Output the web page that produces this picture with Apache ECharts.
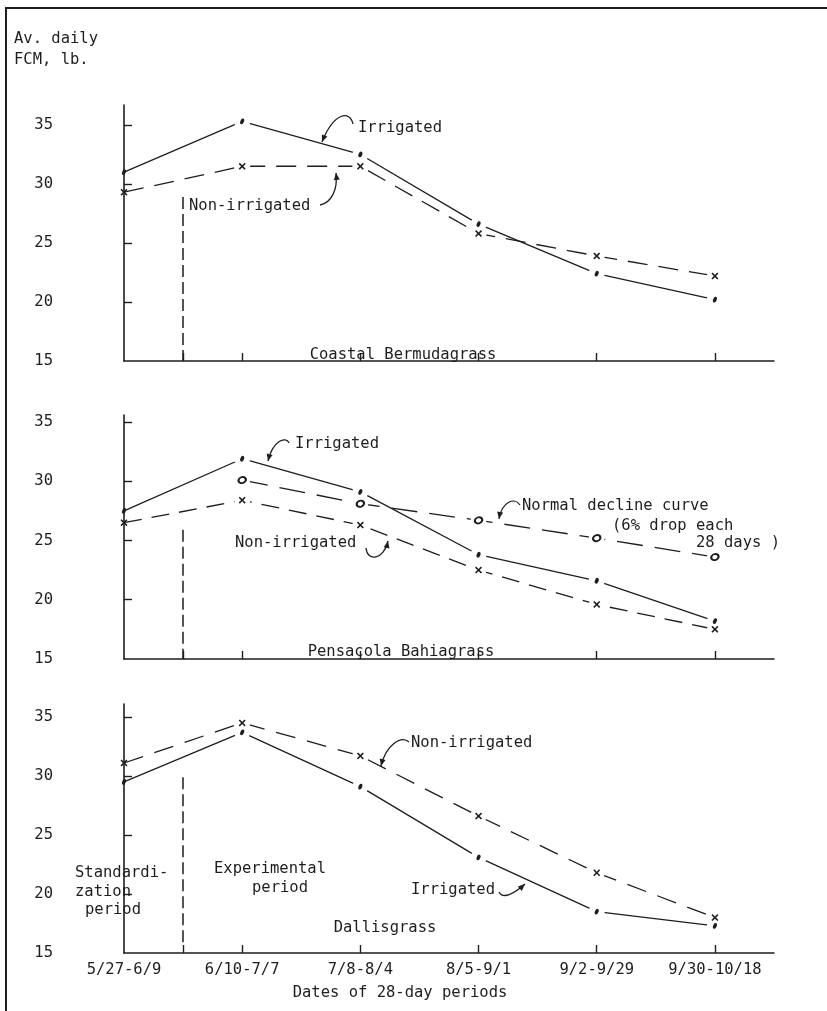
<!DOCTYPE html>
<html>
<head>
<meta charset="utf-8">
<script src="https://cdn.jsdelivr.net/npm/echarts@6/dist/echarts.min.js"></script>
<style>html,body{margin:0;padding:0;background:#fff}#c{width:827px;height:1011px}</style>
</head>
<body>
<div id="c"></div>
<script>
const categories = ['5/27-6/9','6/10-7/7','7/8-8/4','8/5-9/1','9/2-9/29','9/30-10/18'];
const yTickLabels = [15, 20, 25, 30, 35];
const bermudaIrrigated    = [31.0, 35.3, 32.5, 26.6, 22.4, 20.2];
const bermudaNonIrrigated = [29.3, 31.5, 31.5, 25.8, 23.9, 22.2];
const bahiaIrrigated      = [27.5, 31.9, 29.1, 23.8, 21.6, 18.2];
const bahiaNonIrrigated   = [26.5, 28.4, 26.3, 22.5, 19.6, 17.5];
const bahiaNormalDecline  = [null, 30.1, 28.1, 26.7, 25.2, 23.6];
const dallisIrrigated     = [29.5, 33.7, 29.1, 23.1, 18.5, 17.3];
const dallisNonIrrigated  = [31.1, 34.5, 31.7, 26.6, 21.8, 18.0];

const INK = '#1e1e1e';
const FONT = '15.5px "DejaVu Sans Mono"';
const X_SYM = 'path://M0,1.6 L1.6,0 L5,3.4 L8.4,0 L10,1.6 L6.6,5 L10,8.4 L8.4,10 L5,6.6 L1.6,10 L0,8.4 L3.4,5 Z';

const toPts = arr => arr.map((v, i) => v == null ? null : [i, v]).filter(p => p);
const skipFirst = arr => arr.map((v, i) => i === 0 ? null : v);

function xAxis(idx, showLabels) {
  return {
    type: 'value', gridIndex: idx, min: 0, max: 5.5, z: 6,
    axisLine: { show: true, lineStyle: { color: INK, width: 1.6 } },
    axisTick: { show: true, inside: true, length: 8, lineStyle: { color: INK, width: 1.4 }, customValues: [0.5, 1, 2, 3, 4, 5] },
    axisLabel: { show: showLabels, customValues: [0, 1, 2, 3, 4, 5], formatter: v => categories[Math.round(v)], margin: 9, color: INK, fontFamily: 'DejaVu Sans Mono', fontSize: 15.5 },
    splitLine: { show: false }
  };
}
function yAxis(idx, max) {
  return {
    type: 'value', gridIndex: idx, min: 15, max: max, z: 6,
    axisLine: { show: true, lineStyle: { color: INK, width: 1.6 } },
    axisTick: { show: true, inside: true, length: 8, lineStyle: { color: INK, width: 1.4 }, customValues: [20, 25, 30, 35] },
    axisLabel: { show: true, customValues: yTickLabels, margin: 71, color: INK, fontFamily: 'DejaVu Sans Mono', fontSize: 15.5 },
    splitLine: { show: false }
  };
}
function line(idx, data, dash) {
  return { type: 'line', xAxisIndex: idx, yAxisIndex: idx, data: toPts(data), symbol: 'none',
    lineStyle: { color: INK, width: 1.3, type: dash || 'solid' }, animation: false, z: 2, silent: true };
}
// white gap round each plotted point (hand-drawn look)
function halo(idx, data) {
  return { type: 'scatter', xAxisIndex: idx, yAxisIndex: idx, data: toPts(data), symbol: 'circle', symbolSize: 16,
    itemStyle: { color: '#fff', opacity: 1 }, animation: false, z: 3, silent: true };
}
function marks(idx, data, kind) {
  const s = { type: 'scatter', xAxisIndex: idx, yAxisIndex: idx, data: toPts(data), animation: false, z: 4, silent: true,
    itemStyle: { color: INK, opacity: 1 } };
  if (kind === 'dot') { s.symbol = 'circle'; s.symbolSize = [3.6, 6]; s.symbolRotate = -22; }
  else if (kind === 'x') { s.symbol = X_SYM; s.symbolSize = 7; }
  else { s.symbol = 'emptyCircle'; s.symbolSize = [7.5, 6]; s.symbolRotate = 20; s.itemStyle = { color: INK, borderColor: INK, borderWidth: 1.8, opacity: 1 }; }
  return s;
}
function divider(y1, y2) {
  return { symbol: 'none', silent: true, label: { show: false }, lineStyle: { color: INK, width: 1.5, type: [12, 5] },
    data: [[{ coord: [0.5, y1] }, { coord: [0.5, y2] }]] };
}

function txt(s, x, y, align) {
  return { type: 'text', x: x, y: y, silent: true, style: { text: s, font: FONT, fill: INK, textAlign: align || 'left', textVerticalAlign: 'middle' } };
}
function arrow(x1, y1, c1x, c1y, c2x, c2y, x2, y2) {
  const a = Math.atan2(y2 - c2y, x2 - c2x), L = 7, W = 3;
  const bx = x2 - L * Math.cos(a), by = y2 - L * Math.sin(a);
  const px = -Math.sin(a) * W, py = Math.cos(a) * W;
  return [
    { type: 'bezierCurve', silent: true, shape: { x1: x1, y1: y1, cpx1: c1x, cpy1: c1y, cpx2: c2x, cpy2: c2y, x2: x2, y2: y2 }, style: { stroke: INK, lineWidth: 1.3, fill: 'none' } },
    { type: 'polygon', silent: true, shape: { points: [[x2, y2], [bx + px, by + py], [bx - px, by - py]] }, style: { fill: INK } }
  ];
}

const series = [];
// Panel 0: Coastal Bermudagrass
const b1 = line(0, bermudaIrrigated);
const b2 = line(0, bermudaNonIrrigated, [20, 11]);
b2.markLine = divider(28.9, 15);
series.push(b1, b2, halo(0, skipFirst(bermudaIrrigated)), halo(0, skipFirst(bermudaNonIrrigated)),
  marks(0, bermudaIrrigated, 'dot'), marks(0, bermudaNonIrrigated, 'x'));
// Panel 1: Pensacola Bahiagrass
const p1 = line(1, bahiaIrrigated);
const p2 = line(1, bahiaNonIrrigated, [18, 10]);
p2.markLine = divider(25.9, 15);
const p3 = line(1, bahiaNormalDecline, [26, 12]);
series.push(p1, p2, p3,
  halo(1, skipFirst(bahiaIrrigated)), halo(1, skipFirst(bahiaNonIrrigated)), halo(1, bahiaNormalDecline),
  marks(1, bahiaIrrigated, 'dot'), marks(1, bahiaNonIrrigated, 'x'), marks(1, bahiaNormalDecline, 'o'));
// Panel 2: Dallisgrass
const d1 = line(2, dallisIrrigated);
const d2 = line(2, dallisNonIrrigated, [20, 12]);
d2.markLine = divider(29.9, 15.5);
series.push(d1, d2, halo(2, skipFirst(dallisIrrigated)), halo(2, skipFirst(dallisNonIrrigated)),
  marks(2, dallisIrrigated, 'dot'), marks(2, dallisNonIrrigated, 'x'));

const graphics = [
  { type: 'polyline', silent: true, shape: { points: [[827, 8], [6, 8], [6, 1011]] }, style: { stroke: INK, lineWidth: 2, fill: 'none' } },
  txt('Av. daily', 14, 39), txt('FCM, lb.', 14, 60),
  txt('Irrigated', 358, 128), txt('Non-irrigated', 189, 206), txt('Coastal Bermudagrass', 403, 355, 'center'),
  txt('Irrigated', 295, 444), txt('Normal decline curve', 522, 506), txt('(6% drop each', 612, 526), txt('28 days )', 696, 543),
  txt('Non-irrigated', 235, 543), txt('Pensaçola Bahiagrass', 401, 652, 'center'),
  txt('Non-irrigated', 411, 743), txt('Irrigated', 411, 890),
  txt('Standardi-', 75, 873), txt('zation', 75, 892), txt('period', 85, 910),
  txt('Experimental', 214, 869), txt('period', 252, 888),
  txt('Dallisgrass', 385, 928, 'center'),
  txt('Dates of 28-day periods', 400, 993, 'center')
].concat(
  arrow(353, 124, 350, 110, 334, 112, 322, 142),
  arrow(320, 205, 331, 203, 338, 190, 336, 173),
  arrow(289, 443, 286, 436, 273, 440, 268, 461),
  arrow(520, 505, 515, 497, 502, 501, 499, 519),
  arrow(366, 548, 367, 562, 384, 560, 388, 541),
  arrow(409, 742, 401, 735, 386, 745, 381, 766),
  arrow(499, 892, 503, 900, 515, 893, 525, 884)
);

const chart = echarts.init(document.getElementById('c'), null, { renderer: 'canvas' });
chart.setOption({
  backgroundColor: '#fff',
  animation: false,
  grid: [
    { left: 124, right: 53, top: 105, height: 256 },
    { left: 124, right: 53, top: 415, height: 244 },
    { left: 124, right: 53, top: 704, height: 249 }
  ],
  xAxis: [xAxis(0, false), xAxis(1, false), xAxis(2, true)],
  yAxis: [yAxis(0, 36.69), yAxis(1, 35.59), yAxis(2, 36.1)],
  series: series,
  graphic: graphics
});
</script>
</body>
</html>
